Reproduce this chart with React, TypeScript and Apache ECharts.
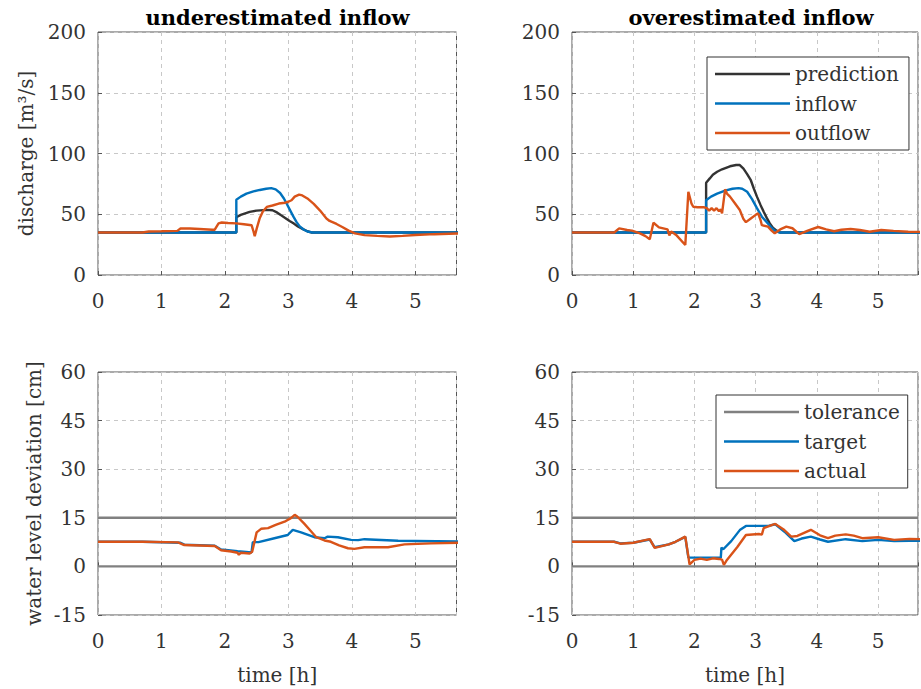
import React, { useEffect, useRef } from "react";
import * as echarts from "echarts";

// ---------- data ----------
const timeMax = 5.65;
const toleranceLevels = [0, 15];

const underPrediction: [number, number][] = [
  [0, 35], [2.18, 35], [2.18, 47.5], [2.25, 49.5], [2.39, 52], [2.5, 53], [2.66, 53.6],
  [2.75, 53.3], [2.82, 51.5], [2.88, 49.3], [2.95, 47], [3.02, 44.5], [3.08, 42.5],
  [3.15, 40], [3.23, 37.8], [3.3, 36], [3.36, 35], [5.7, 35],
];
const underInflow: [number, number][] = [
  [0, 35], [2.18, 35], [2.18, 62], [2.25, 64.5], [2.34, 67], [2.45, 68.8], [2.55, 70],
  [2.65, 71], [2.73, 71.5], [2.8, 70.5], [2.87, 67.5], [2.93, 63], [2.97, 59], [3.02, 54],
  [3.08, 48], [3.13, 43.5], [3.18, 40], [3.24, 37.5], [3.3, 35.8], [3.38, 35], [5.7, 35],
];
const underOutflow: [number, number][] = [
  [0, 35], [0.7, 35], [0.8, 35.8], [1.0, 36], [1.25, 36.3], [1.3, 38.3], [1.45, 38.3],
  [1.6, 37.9], [1.8, 37.2], [1.84, 37.3], [1.9, 42.5], [1.95, 43.2], [2.05, 42.8],
  [2.18, 42.5], [2.3, 41.8], [2.42, 41], [2.45, 36], [2.47, 32], [2.5, 38], [2.55, 47],
  [2.6, 52.5], [2.66, 56], [2.75, 57.2], [2.85, 58.8], [2.95, 59.5], [3.0, 60.3],
  [3.05, 61.5], [3.1, 64.5], [3.17, 66.2], [3.22, 65.5], [3.3, 63], [3.4, 58.5],
  [3.5, 53], [3.6, 46.5], [3.65, 44.5], [3.76, 42], [3.85, 39.5], [3.95, 36.5],
  [4.05, 34.3], [4.2, 32.8], [4.4, 32.2], [4.6, 31.7], [4.8, 32.2], [5.0, 32.9],
  [5.3, 33.6], [5.65, 34.2], [5.7, 34.2],
];

const overPrediction: [number, number][] = [
  [0, 35], [2.19, 35], [2.19, 76], [2.25, 79.5], [2.3, 82.5], [2.37, 85], [2.45, 87],
  [2.58, 89.5], [2.68, 90.5], [2.74, 90.5], [2.8, 87.5], [2.86, 83], [2.92, 78],
  [2.97, 71], [3.02, 64.5], [3.08, 57.5], [3.13, 52], [3.18, 47], [3.23, 42.5],
  [3.28, 39], [3.34, 36.5], [3.4, 35], [5.7, 35],
];
const overInflow: [number, number][] = [
  [0, 35], [2.19, 35], [2.19, 61.5], [2.27, 64.5], [2.37, 67], [2.5, 69.5], [2.62, 71],
  [2.72, 71.5], [2.78, 71], [2.86, 68.5], [2.94, 62.5], [3.02, 55], [3.1, 48],
  [3.18, 43.5], [3.25, 39.5], [3.31, 36.5], [3.38, 35], [5.7, 35],
];
const overOutflow: [number, number][] = [
  [0, 35], [0.69, 35], [0.77, 38.4], [0.9, 37], [0.98, 36.5], [1.11, 34.3], [1.2, 32],
  [1.27, 29.5], [1.33, 43], [1.42, 39.2], [1.56, 37.6], [1.59, 32.5], [1.62, 35.8],
  [1.7, 33], [1.85, 24.7], [1.9, 68.5], [1.95, 59], [1.98, 56.2], [2.05, 55.8],
  [2.16, 55.7], [2.2, 55], [2.24, 53], [2.28, 55], [2.32, 53], [2.36, 55], [2.4, 52.5],
  [2.43, 54], [2.45, 50.8], [2.5, 70.5], [2.53, 67], [2.58, 64.5], [2.66, 59],
  [2.74, 53.5], [2.8, 46], [2.84, 43.5], [2.92, 46.5], [3.0, 49.5], [3.04, 50.8],
  [3.08, 45], [3.1, 41], [3.2, 39.8], [3.26, 36.5], [3.31, 34.3], [3.4, 37.5],
  [3.5, 39.8], [3.6, 38.5], [3.71, 33.7], [3.85, 36.5], [4.02, 39.5], [4.15, 37.5],
  [4.28, 36], [4.4, 37.2], [4.55, 37.9], [4.7, 37], [4.86, 35.6], [5.05, 37],
  [5.25, 36.3], [5.49, 35.6], [5.7, 35.5],
];

const underTarget: [number, number][] = [
  [0, 7.6], [0.7, 7.6], [1.3, 7.3], [1.36, 6.7], [1.84, 6.4], [1.94, 5.2], [2.2, 4.7],
  [2.42, 4.3], [2.44, 7.5], [2.53, 7.5], [2.78, 8.7], [2.99, 9.7], [3.07, 11.3],
  [3.2, 10.5], [3.41, 9.0], [3.57, 8.7], [3.62, 9.2], [3.78, 9.0], [3.99, 8.2],
  [4.1, 8.1], [4.2, 8.4], [4.73, 7.9], [5.0, 7.85], [5.7, 7.7],
];
const underActual: [number, number][] = [
  [0, 7.6], [0.7, 7.6], [1.26, 7.4], [1.36, 6.6], [1.84, 6.3], [1.94, 5.0], [2.1, 4.6],
  [2.2, 4.2], [2.22, 3.6], [2.25, 4.2], [2.39, 4.0], [2.43, 4.5], [2.5, 10.5],
  [2.57, 11.6], [2.68, 11.8], [2.8, 12.8], [2.94, 13.8], [3.04, 14.9], [3.1, 15.9],
  [3.14, 15.4], [3.25, 13.2], [3.35, 11], [3.44, 9.0], [3.57, 8.0], [3.67, 7.6],
  [3.8, 6.5], [3.94, 5.6], [4.04, 5.4], [4.2, 5.9], [4.57, 5.9], [4.83, 6.8],
  [5.25, 7.1], [5.7, 7.3],
];

const overTarget: [number, number][] = [
  [0, 7.6], [0.69, 7.6], [0.79, 7.1], [1.0, 7.3], [1.27, 8.3], [1.35, 5.9], [1.58, 6.8],
  [1.69, 7.6], [1.85, 9.1], [1.9, 2.7], [2.43, 2.7], [2.44, 5.8], [2.47, 5.3],
  [2.6, 7.8], [2.74, 11.2], [2.84, 12.5], [3.21, 12.5], [3.32, 13.0], [3.47, 10.7],
  [3.63, 7.8], [3.75, 8.6], [3.9, 9.2], [4.05, 8.3], [4.18, 7.6], [4.47, 8.4],
  [4.74, 7.8], [5.0, 8.2], [5.26, 7.8], [5.51, 7.9], [5.7, 7.9],
];
const overActual: [number, number][] = [
  [0, 7.6], [0.69, 7.6], [0.79, 7.0], [1.0, 7.3], [1.27, 8.4], [1.35, 5.7], [1.58, 6.8],
  [1.69, 7.6], [1.85, 9.2], [1.92, 0.6], [2.0, 2.0], [2.1, 2.4], [2.2, 2.0], [2.3, 2.5],
  [2.4, 2.3], [2.45, 2.1], [2.48, 0.5], [2.53, 2.0], [2.7, 6], [2.84, 9.7], [3.05, 10.0],
  [3.1, 9.8], [3.13, 11.8], [3.27, 12.8], [3.32, 13.1], [3.45, 11.5], [3.58, 9.2],
  [3.68, 9.4], [3.9, 11.3], [4.05, 9.6], [4.18, 8.7], [4.3, 9.5], [4.47, 9.9],
  [4.6, 9.5], [4.74, 8.7], [5.0, 9.0], [5.26, 8.2], [5.51, 8.5], [5.7, 8.4],
];

const titles = ["underestimated inflow", "overestimated inflow"];
const topLegend = ["prediction", "inflow", "outflow"];
const bottomLegend = ["tolerance", "target", "actual"];

// ---------- styling ----------
const FONT = "DejaVu Serif";
const TXT = "#333333";
const C_PRED = "#333333";
const C_BLUE = "#0072BD";
const C_ORANGE = "#D95319";
const C_TOL = "#808080";
const LW = 2.4;

const grids = [
  { left: 98, top: 32, width: 358.5, height: 243 },
  { left: 572, top: 32, width: 358.5, height: 243 },
  { left: 98, top: 372, width: 358.5, height: 243 },
  { left: 572, top: 372, width: 358.5, height: 243 },
];

function xAxis(gridIndex: number, named: boolean) {
  return {
    type: "value",
    gridIndex,
    min: 0,
    max: timeMax,
    interval: 1,
    name: named ? "time [h]" : "",
    nameLocation: "middle",
    nameGap: 50,
    nameTextStyle: { fontFamily: FONT, fontSize: 20, color: TXT },
    axisLine: { show: false },
    axisTick: { show: true, inside: true, length: 4, lineStyle: { color: "#555" } },
    splitLine: { show: true, lineStyle: { type: [4, 4], color: "#c8c8c8", width: 1 } },
    axisLabel: {
      fontFamily: FONT,
      fontSize: 20,
      color: TXT,
      margin: 16,
      formatter: (v: number) => (Number.isInteger(v) ? String(v) : ""),
    },
  };
}

function yAxis(gridIndex: number, min: number, max: number, interval: number, name: string, gap: number) {
  return {
    type: "value",
    gridIndex,
    min,
    max,
    interval,
    name,
    nameLocation: "middle",
    nameGap: gap,
    nameTextStyle: { fontFamily: FONT, fontSize: 20, color: TXT },
    axisLine: { show: false },
    axisTick: { show: true, inside: true, length: 4, lineStyle: { color: "#555" } },
    splitLine: { show: true, lineStyle: { type: [4, 4], color: "#c8c8c8", width: 1 } },
    axisLabel: { fontFamily: FONT, fontSize: 20, color: TXT, margin: 12 },
  };
}

function line(name: string, idx: number, data: [number, number][], color: string, z = 3) {
  return {
    type: "line",
    name,
    xAxisIndex: idx,
    yAxisIndex: idx,
    data,
    symbol: "none",
    showSymbol: false,
    z,
    lineStyle: { color, width: LW },
    itemStyle: { color },
  };
}

function toleranceSeries(idx: number) {
  return toleranceLevels.map((lvl) =>
    line("tolerance", idx, [[0, lvl], [timeMax, lvl]], C_TOL, 2)
  );
}

export default function App() {
  const ref = useRef<HTMLDivElement>(null);
  useEffect(() => {
    if (!ref.current) return;
    const chart = echarts.init(ref.current, undefined, { renderer: "svg" });
    const legendCommon = {
      orient: "vertical",
      icon: "rect",
      itemWidth: 75,
      itemHeight: 2.5,
      itemGap: 9.5,
      backgroundColor: "#ffffff",
      borderColor: "#333333",
      borderWidth: 1,
      borderRadius: 0,
      textStyle: { fontFamily: FONT, fontSize: 20, color: TXT },
      selectedMode: false,
      z: 10,
    };
    chart.setOption({
      animation: false,
      backgroundColor: "#ffffff",
      grid: grids.map((g) => ({ ...g, show: true, borderColor: "#555555", borderWidth: 1, backgroundColor: "transparent" })),
      xAxis: [xAxis(0, false), xAxis(1, false), xAxis(2, true), xAxis(3, true)],
      yAxis: [
        yAxis(0, 0, 200, 50, "discharge [m³/s]", 62),
        yAxis(1, 0, 200, 50, "", 60),
        yAxis(2, -15, 60, 15, "water level deviation [cm]", 54),
        yAxis(3, -15, 60, 15, "", 54),
      ],
      legend: [
        { ...legendCommon, data: topLegend, left: 707, top: 57, padding: [7, 10, 7, 8] },
        { ...legendCommon, data: bottomLegend, left: 716, top: 395, padding: [7, 8, 7, 8] },
      ],
      graphic: [
        {
          type: "text",
          x: 277.5,
          y: 17,
          style: { text: titles[0], fontFamily: FONT, fontSize: 21, fontWeight: "bold", fill: "#000", align: "center", verticalAlign: "middle" },
        },
        {
          type: "text",
          x: 751,
          y: 17,
          style: { text: titles[1], fontFamily: FONT, fontSize: 21, fontWeight: "bold", fill: "#000", align: "center", verticalAlign: "middle" },
        },
      ],
      series: [
        line("prediction", 0, underPrediction, C_PRED),
        line("inflow", 0, underInflow, C_BLUE),
        line("outflow", 0, underOutflow, C_ORANGE),
        line("prediction", 1, overPrediction, C_PRED),
        line("inflow", 1, overInflow, C_BLUE),
        line("outflow", 1, overOutflow, C_ORANGE),
        ...toleranceSeries(2),
        line("target", 2, underTarget, C_BLUE),
        line("actual", 2, underActual, C_ORANGE),
        ...toleranceSeries(3),
        line("target", 3, overTarget, C_BLUE),
        line("actual", 3, overActual, C_ORANGE),
      ],
    });
    return () => chart.dispose();
  }, []);
  return (
    <div
      ref={ref}
      style={{ position: "absolute", left: 0, top: 0, width: 921, height: 689, background: "#fff" }}
    />
  );
}
